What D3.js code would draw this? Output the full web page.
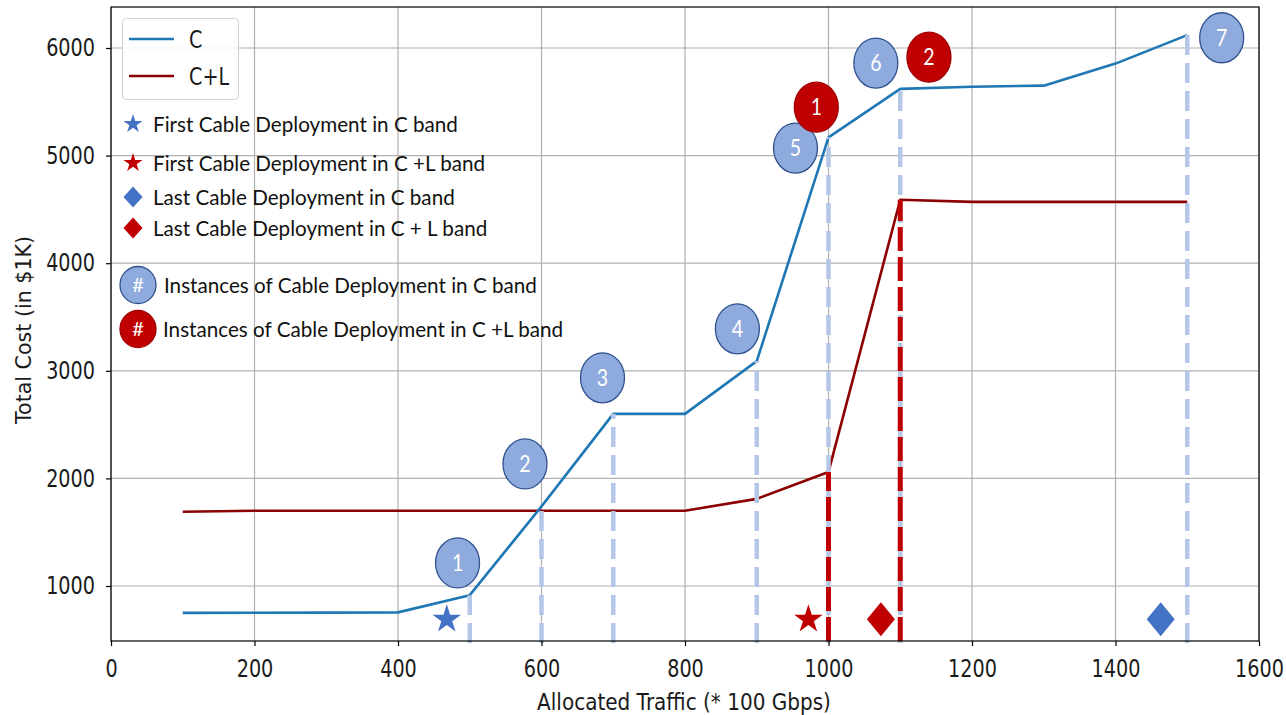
<!DOCTYPE html>
<html><head><meta charset="utf-8">
<script src="https://cdn.jsdelivr.net/npm/d3@7"></script>
<style>body{margin:0;background:#fff} svg{display:block}</style>
</head><body><svg id="chart" width="1286" height="715"></svg>
<script>
// ---------- data ----------
const xTickValues = [0, 200, 400, 600, 800, 1000, 1200, 1400, 1600];
const yTickValues = [1000, 2000, 3000, 4000, 5000, 6000];
const traffic = [100, 200, 300, 400, 500, 600, 700, 800, 900, 1000, 1100, 1200, 1300, 1400, 1500];
const costC  = [750, 752, 753, 755, 915, 1740, 2600, 2600, 3090, 5170, 5620, 5640, 5650, 5855, 6120];
const costCL = [1690, 1700, 1700, 1700, 1700, 1700, 1700, 1700, 1810, 2060, 4590, 4570, 4570, 4570, 4570];
const deployC  = [500, 600, 700, 900, 1000, 1100, 1500];
const deployCL = [1000, 1100];
const firstC  = [468, 690];
const firstCL = [972, 690];
const lastC   = [1463, 690];
const lastCL  = [1073, 690];
const instLabelsC = ["1", "2", "3", "4", "5", "6", "7"];
const instPosC = [[483, 1215], [577, 2135], [685, 2935], [873, 3390], [954, 5070], [1066, 5860], [1548, 6095]];
const instLabelsCL = ["1", "2"];
const instPosCL = [[983, 5450], [1140, 5915]];
const seriesNames = ["C", "C+L"];
const markerLegend = ["First Cable Deployment in C band", "First Cable Deployment in C +L band",
                      "Last Cable Deployment in C band", "Last Cable Deployment in C + L band"];
const instLegend = ["Instances of Cable Deployment in C band", "Instances of Cable Deployment in C +L band"];
const xLabel = "Allocated Traffic (* 100 Gbps)";
const yLabel = "Total Cost (in $1K)";

// ---------- drawing ----------
const svg = d3.select("#chart");
svg.append("rect").attr("width", 1286).attr("height", 715).attr("fill", "#fff");
const L = 111, R = 1259, T = 7, B = 641;
const x = d3.scaleLinear().domain([0, 1600]).range([L, R]);
const y = d3.scaleLinear().domain([489, 6381]).range([B, T]);
const BLUE = "#1f77b4", DRED = "#8b0000", MBLUE = "#4472c4", MRED = "#c00000";
const LIGHT = "#b4c7e7";

function squeeze(sel, sx) {
  sel.each(function () {
    const t = d3.select(this);
    const xx = +t.attr("x") || 0;
    t.attr("x", xx / sx);
    const tr = t.attr("transform") || "";
    t.attr("transform", tr + ` scale(${sx},1)`);
  });
}

// grid
const grid = svg.append("g").attr("stroke", "#b0b0b0").attr("stroke-width", 1.2);
grid.selectAll(".gx").data(xTickValues).join("line")
  .attr("x1", d => x(d)).attr("x2", d => x(d)).attr("y1", T).attr("y2", B);
grid.selectAll(".gy").data(yTickValues).join("line")
  .attr("x1", L).attr("x2", R).attr("y1", d => y(d)).attr("y2", d => y(d));

// lines
const line = d3.line().x(d => x(d[0])).y(d => y(d[1]));
const dataC = traffic.map((t, i) => [t, costC[i]]);
const dataCL = traffic.map((t, i) => [t, costCL[i]]);
svg.append("path").datum(dataCL).attr("d", line).attr("fill", "none")
  .attr("stroke", DRED).attr("stroke-width", 2.6).attr("stroke-linejoin", "round");
svg.append("path").datum(dataC).attr("d", line).attr("fill", "none")
  .attr("stroke", BLUE).attr("stroke-width", 2.6).attr("stroke-linejoin", "round");

// dashed deployment lines
const lookup = (arr, t) => arr[traffic.indexOf(t)];
svg.append("g").selectAll("line").data(deployC).join("line")
  .attr("x1", d => x(d)).attr("x2", d => x(d))
  .attr("y1", y(470)).attr("y2", d => y(d === 600 ? lookup(costCL, d) : lookup(costC, d)))
  .attr("stroke", LIGHT).attr("stroke-width", 4.5).attr("stroke-dasharray", "20,8");
svg.append("g").selectAll("line").data(deployCL).join("line")
  .attr("x1", d => x(d)).attr("x2", d => x(d))
  .attr("y1", y(489)).attr("y2", d => y(lookup(costCL, d)))
  .attr("stroke", MRED).attr("stroke-width", 5).attr("stroke-dasharray", "24,6");

// spines + ticks
const fmt = d3.format("d");
const xAxis = svg.append("g").attr("transform", `translate(0,${B})`)
  .call(d3.axisBottom(x).tickValues(xTickValues).tickFormat(fmt).tickSize(5).tickPadding(14).tickSizeOuter(0));
const yAxis = svg.append("g").attr("transform", `translate(${L},0)`)
  .call(d3.axisLeft(y).tickValues(yTickValues).tickFormat(fmt).tickSize(5).tickPadding(11).tickSizeOuter(0));
[xAxis, yAxis].forEach(a => {
  a.select(".domain").remove();
  a.selectAll(".tick line").attr("stroke", "#000").attr("stroke-width", 1.2);
  a.selectAll(".tick text").attr("font-family", "DejaVu Sans").attr("font-size", 24).attr("fill", "#1a1a1a");
  squeeze(a.selectAll(".tick text"), 0.8);
});
svg.append("rect").attr("x", L).attr("y", T).attr("width", R - L).attr("height", B - T)
  .attr("fill", "none").attr("stroke", "#000").attr("stroke-width", 1.2);

// axis labels
const xl = svg.append("text").attr("x", (L + R) / 2 - 1).attr("y", 710)
  .attr("text-anchor", "middle").attr("font-family", "DejaVu Sans").attr("font-size", 23)
  .attr("fill", "#1a1a1a").text(xLabel);
squeeze(xl, 0.87);
svg.append("text").attr("transform", "translate(31,330) rotate(-90)")
  .attr("text-anchor", "middle").attr("font-family", "DejaVu Sans").attr("font-size", 20.6)
  .attr("fill", "#1a1a1a").text(yLabel);

// markers
const star = (r) => d3.symbol(d3.symbolStar, r * r / 0.8908)();
const diamond = (w, h) => `M0,${-h}L${w},0L0,${h}L${-w},0Z`;
function addMarker(pos, path, color) {
  svg.append("path").attr("d", path).attr("fill", color)
    .attr("transform", `translate(${x(pos[0])},${y(pos[1])})`);
}
addMarker(firstC, star(15), MBLUE);
addMarker(firstCL, star(15), MRED);
addMarker(lastC, diamond(14, 17), MBLUE);
addMarker(lastCL, diamond(14, 17), MRED);

// instance circles
function addInstances(pos, labels, fill, stroke) {
  const g = svg.append("g").selectAll("g").data(pos).join("g")
    .attr("transform", d => `translate(${x(d[0])},${y(d[1])})`);
  g.append("ellipse").attr("rx", 22).attr("ry", 25).attr("fill", fill)
    .attr("stroke", stroke).attr("stroke-width", 1.3);
  const t = g.append("text").attr("text-anchor", "middle").attr("dy", "0.36em")
    .attr("font-family", "Lato").attr("font-size", 23).attr("fill", "#fff")
    .text((d, i) => labels[i]);
  squeeze(t, 0.85);
}
addInstances(instPosC, instLabelsC, "#8faadc", "#2f528f");
addInstances(instPosCL, instLabelsCL, "#c00000", "#a00000");

// legend (series)
svg.append("rect").attr("x", 122.5).attr("y", 18.5).attr("width", 116).attr("height", 81)
  .attr("rx", 4).attr("fill", "#fff").attr("fill-opacity", 0.85).attr("stroke", "#d0d0d0");
const legColors = [BLUE, DRED];
const legY = [39, 76];
seriesNames.forEach((n, i) => {
  svg.append("line").attr("x1", 129).attr("x2", 174).attr("y1", legY[i]).attr("y2", legY[i])
    .attr("stroke", legColors[i]).attr("stroke-width", 2.6);
  const t = svg.append("text").attr("x", 189).attr("y", legY[i]).attr("dy", "0.36em")
    .attr("font-family", "DejaVu Sans").attr("font-size", 24).attr("fill", "#1a1a1a").text(n);
  squeeze(t, 0.8);
});

// legend (markers + instances)
const mkY = [124, 163, 197, 228];
const mkPaths = [star(10), star(10), diamond(9.5, 10.5), diamond(9.5, 10.5)];
const mkColors = [MBLUE, MRED, MBLUE, MRED];
const annTexts = [];
markerLegend.forEach((s, i) => {
  svg.append("path").attr("d", mkPaths[i]).attr("fill", mkColors[i])
    .attr("transform", `translate(133,${mkY[i]})`);
  annTexts.push(svg.append("text").attr("x", 153).attr("y", mkY[i]).attr("dy", "0.36em")
    .attr("font-family", "Lato").attr("font-size", 22).attr("fill", "#111").text(s));
});
const inY = [285, 329];
const inFill = ["#8faadc", "#c00000"], inStroke = ["#2f528f", "#a00000"];
const inTextX = [164, 163];
instLegend.forEach((s, i) => {
  svg.append("ellipse").attr("cx", 138).attr("cy", inY[i]).attr("rx", 18).attr("ry", 18.5)
    .attr("fill", inFill[i]).attr("stroke", inStroke[i]).attr("stroke-width", 1.3);
  svg.append("text").attr("x", 138).attr("y", inY[i]).attr("dy", "0.36em").attr("text-anchor", "middle")
    .attr("font-family", "Lato").attr("font-size", 20).attr("fill", "#fff").text("#");
  annTexts.push(svg.append("text").attr("x", inTextX[i]).attr("y", inY[i]).attr("dy", "0.36em")
    .attr("font-family", "Lato").attr("font-size", 22).attr("fill", "#111").text(s));
});
const len0 = annTexts[0].node().getComputedTextLength();
const sxAnn = len0 > 0 ? 305 / len0 : 0.9;
annTexts.forEach(t => squeeze(t, sxAnn));
</script></body></html>
